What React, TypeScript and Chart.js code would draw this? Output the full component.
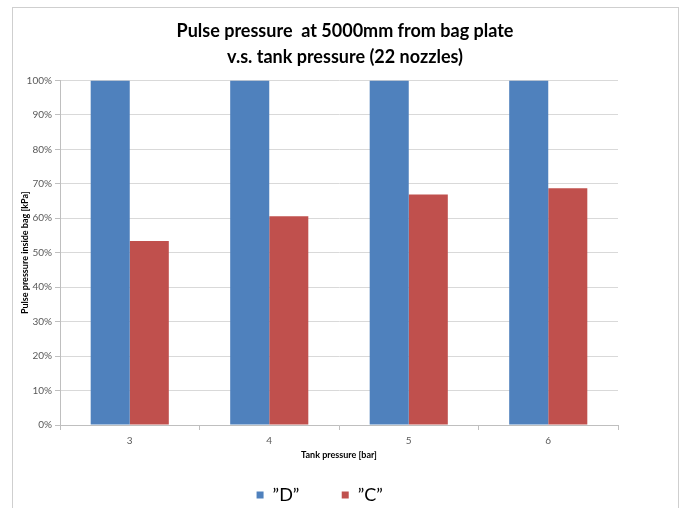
import React, { useEffect, useRef } from "react";
import { Chart, registerables } from "chart.js";

Chart.register(...registerables);

const categories = ["3", "4", "5", "6"];
const seriesD = [1, 1, 1, 1];
const seriesC = [0.534, 0.606, 0.669, 0.687];
const labelD = "\u201DD\u201D";
const labelC = "\u201DC\u201D";
const titleLines = ["Pulse pressure  at 5000mm from bag plate", "v.s. tank pressure (22 nozzles)"];
const yTitle = "Pulse pressure inside bag [kPa]";
const xTitle = "Tank pressure [bar]";

const FONT = "Lato, 'Open Sans', sans-serif";
const NB = "\u00a0";

export default function App() {
  const ref = useRef<HTMLCanvasElement>(null);
  useEffect(() => {
    if (!ref.current) return;
    const chart = new Chart(ref.current, {
      type: "bar",
      data: {
        labels: categories,
        datasets: [
          { label: labelD, data: seriesD, backgroundColor: "#4f81bd", barPercentage: 1, categoryPercentage: 0.56, yAxisID: "y" },
          { label: labelC, data: seriesC, backgroundColor: "#c0504d", barPercentage: 1, categoryPercentage: 0.56, yAxisID: "y" },
        ],
      },
      options: {
        animation: false,
        responsive: false,
        maintainAspectRatio: false,
        layout: { padding: { left: 12, right: 6, top: 7, bottom: -6 } },
        plugins: {
          tooltip: { enabled: false },
          title: {
            display: true,
            text: titleLines,
            color: "#000",
            font: { family: FONT, size: 18, weight: "bold", lineHeight: 1.4 },
            padding: { top: 12, bottom: 11 },
          },
          legend: {
            position: "bottom",
            labels: {
              color: "#000",
              boxWidth: 7,
              boxHeight: 7,
              padding: 1,
              font: { family: FONT, size: 18 },
              generateLabels: (c: any) => {
                const items = Chart.defaults.plugins.legend.labels.generateLabels(c);
                items.forEach((it: any, i: number) => {
                  it.lineWidth = 0;
                  if (i === 0) it.text = it.text + NB.repeat(9);
                  else it.text = it.text + NB.repeat(11);
                });
                return items;
              },
            },
          },
        },
        scales: {
          x: {
            offset: true,
            grid: { offset: true, drawOnChartArea: false, drawTicks: true, tickLength: 5, color: "#bfbfbf" },
            border: { color: "#bfbfbf" },
            ticks: { color: "#595959", font: { family: FONT, size: 10 }, padding: 5 },
            title: {
              display: true,
              text: xTitle,
              color: "#000",
              font: { family: FONT, size: 9, weight: "bold" },
              padding: { top: 0, bottom: 25 },
            },
            afterFit: (s: any) => {
              s.height = 60;
            },
          },
          y: {
            position: "left",
            min: 0,
            max: 1,
            ticks: {
              stepSize: 0.1,
              color: "#595959",
              font: { family: FONT, size: 10 },
              padding: 3,
              callback: (v: any) => Math.round(Number(v) * 100) + "%",
            },
            grid: { color: "#d9d9d9", tickLength: 5, tickColor: "#bfbfbf" },
            border: { color: "#bfbfbf" },
            title: {
              display: true,
              text: yTitle,
              color: "#000",
              font: { family: FONT, size: 9, weight: "bold" },
              padding: { top: 8, bottom: 0 },
            },
            afterFit: (s: any) => {
              s.width = 48;
            },
          },
          yRight: {
            position: "right",
            display: true,
            min: 0,
            max: 1,
            grid: { display: false, drawTicks: false },
            border: { display: false },
            ticks: { display: false },
            afterFit: (s: any) => {
              s.width = 60;
            },
          },
        },
      },
    });
    return () => chart.destroy();
  }, []);
  return (
    <div style={{ position: "absolute", left: 0, top: 0, width: 684, height: 508, background: "#fff", overflow: "hidden" }}>
      <div
        style={{
          position: "absolute",
          left: 12,
          top: 7,
          width: 667,
          height: 520,
          border: "1px solid #cfcfcf",
          boxSizing: "border-box",
        }}
      />
      <canvas ref={ref} width={684} height={508} style={{ position: "absolute", left: 0, top: 0, width: 684, height: 508 }} />
    </div>
  );
}
